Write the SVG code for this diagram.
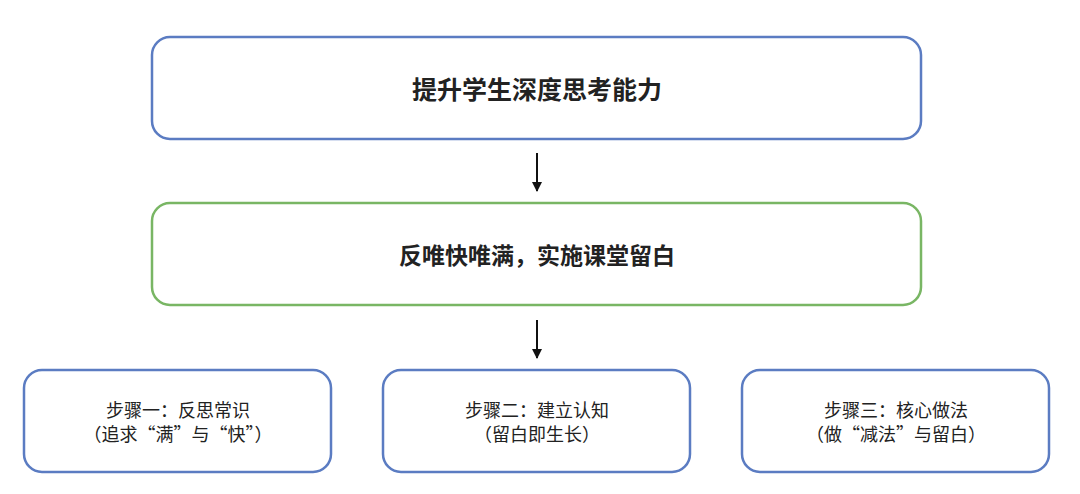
<svg xmlns="http://www.w3.org/2000/svg" width="1080" height="494" viewBox="0 0 1080 494">
<defs>
<style>
.box{fill:#fff;stroke-width:2.5}
.blue{stroke:#5b7cc2}
.green{stroke:#79b664}
.t{font-family:"Noto Sans CJK SC","Noto Sans",sans-serif;fill:#222;text-anchor:middle}
.big{font-size:23px;font-weight:bold}
.top{font-size:25px}
.small{font-size:18px}
.conn{stroke:#111;stroke-width:2;fill:none}
</style>
<marker id="ah" viewBox="0 0 10 10" refX="9" refY="5" markerWidth="5" markerHeight="5" orient="auto" markerUnits="strokeWidth">
<path d="M0,0 L10,5 L0,10 z" fill="#111"/>
</marker>
</defs>
<rect width="1080" height="494" fill="#fff"/>
<g id="n1">
<rect class="box blue" x="152" y="37" width="769" height="102" rx="18"/>
<text class="t big top" x="537" y="99">提升学生深度思考能力</text>
</g>
<g id="n2">
<rect class="box green" x="152" y="203" width="769" height="102" rx="18"/>
<text class="t big" x="537" y="264">反唯快唯满，实施课堂留白</text>
</g>
<g id="n3">
<rect class="box blue" x="24" y="370" width="307" height="102" rx="18"/>
<text class="t small" x="178" y="417">步骤一：反思常识</text>
<text class="t small" x="178" y="441">（追求“满”与“快”）</text>
</g>
<g id="n4">
<rect class="box blue" x="383" y="370" width="307" height="102" rx="18"/>
<text class="t small" x="537" y="417">步骤二：建立认知</text>
<text class="t small" x="537" y="441">（留白即生长）</text>
</g>
<g id="n5">
<rect class="box blue" x="742" y="370" width="307" height="102" rx="18"/>
<text class="t small" x="896" y="417">步骤三：核心做法</text>
<text class="t small" x="896" y="441">（做“减法”与留白）</text>
</g>
<g id="connectors">
<line class="conn" x1="537" y1="153" x2="537" y2="191" marker-end="url(#ah)"/>
<line class="conn" x1="537" y1="320" x2="537" y2="358" marker-end="url(#ah)"/>
</g>
</svg>
